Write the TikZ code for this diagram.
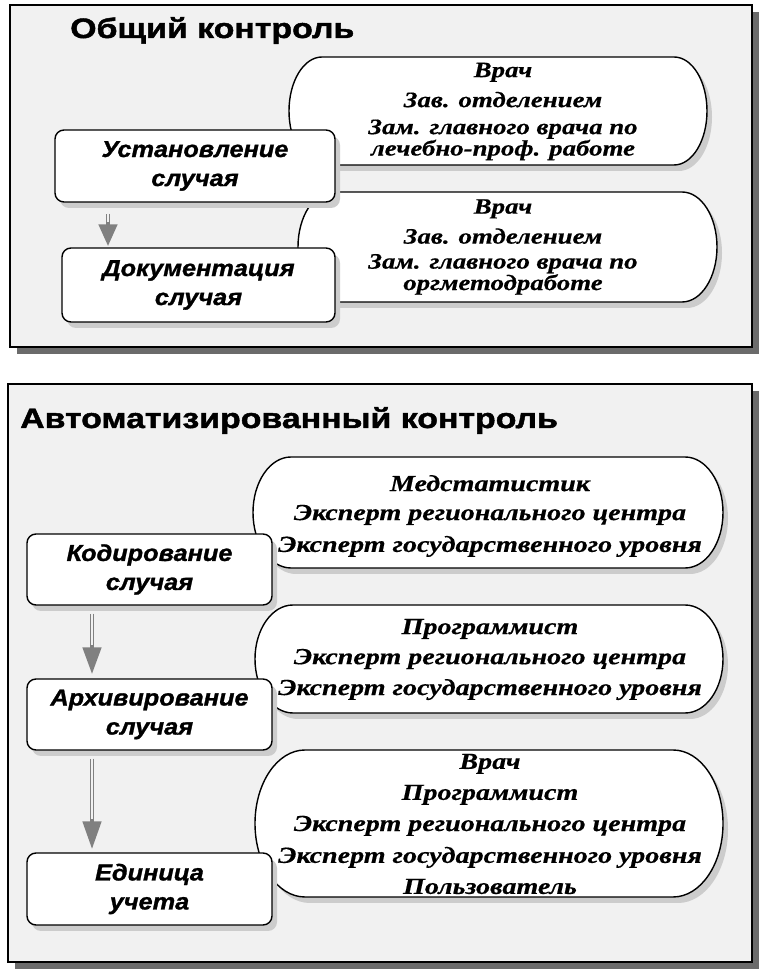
\documentclass[tikz,border=0pt]{standalone}
\usepackage{fontspec}
\setmainfont{Liberation Serif}
\newfontfamily\titlefam{Liberation Sans}[UprightFont={* Bold}, FakeStretch=1.21, FakeBold=1.6]
\newfontfamily\boxfam{Liberation Sans}[UprightFont={* Bold Italic}, FakeStretch=1.1, FakeBold=1.2]
\newfontfamily\pillfam{Liberation Serif}[UprightFont={* Bold Italic}, FakeStretch=1.22, FakeBold=0.5]
\usetikzlibrary{arrows.meta,shadows}
\definecolor{panelbg}{gray}{0.945}
\definecolor{panelshadow}{gray}{0.42}
\definecolor{softshadow}{gray}{0.80}
\definecolor{arrowgray}{gray}{0.50}
% pill outline: style, cx, cy, w, h, rx
\newcommand\pillshape[6]{%
  \path[#1] ({#2-#4/2+#6},{#3+#5/2}) -- ({#2+#4/2-#6},{#3+#5/2})
    arc[start angle=90, end angle=-90, x radius=#6, y radius=#5/2]
    -- ({#2-#4/2+#6},{#3-#5/2})
    arc[start angle=270, end angle=90, x radius=#6, y radius=#5/2] -- cycle;}
\begin{document}
\begin{tikzpicture}[x=1pt,y=1pt,
  panel/.style={draw=black, line width=1.4pt, fill=panelbg,
    drop shadow={shadow xshift=7pt, shadow yshift=-7pt, fill=panelshadow, opacity=1}},
  title/.style={anchor=base west, inner sep=0pt, font={\titlefam\fontsize{28}{32}\selectfont}},
  pill/.style={draw=black, line width=1.4pt, fill=white,
    drop shadow={shadow xshift=5pt, shadow yshift=-6pt, fill=softshadow, opacity=1}},
  pilltext/.style={align=center, inner sep=0pt, font={\pillfam\fontsize{#1}{19}\selectfont}},
  pilltext/.default=22,
  stepbox/.style={draw=black, line width=1.4pt, fill=white, rounded corners=9pt,
    align=center, inner sep=0pt,
    font={\boxfam\fontsize{23}{29}\selectfont},
    drop shadow={shadow xshift=5pt, shadow yshift=-6pt, fill=softshadow, opacity=1}},
  garrow/.style={draw=arrowgray, line width=4.6pt, -{Triangle[length=#1, width=18pt]}},
  ginner/.style={draw=panelbg, line width=1.6pt, shorten >=#1},
]
\useasboundingbox (0,0) rectangle (767,980);
\fill[white] (0,0) rectangle (767,980);

% ---------- panels ----------
\path[panel] (10,975) rectangle (752,633);
\path[panel] (8,596) rectangle (752,18);

\node[title] (t1) at (70,942) {Общий контроль};
\node[title] (t2) at (20,552) {Автоматизированный контроль};

% ---------- pills (outlines) ----------
\pillshape{pill}{498}{869}{418}{108}{33}
\pillshape{pill}{507.5}{733}{419}{110}{35}
\pillshape{pill}{488}{467.5}{470}{111}{38}
\pillshape{pill}{489}{321}{468}{108}{38}
\pillshape{pill}{489}{156.5}{468}{147}{50}

% ---------- step boxes ----------
\node[stepbox, minimum width=280pt, minimum height=72pt] (ust) at (195,814) {Установление\\случая};
\node[stepbox, minimum width=273pt, minimum height=74pt] (doc) at (198.5,695) {Документация\\случая};
\node[stepbox, minimum width=245pt, minimum height=71pt] (kod) at (149.5,410.5) {Кодирование\\случая};
\node[stepbox, minimum width=245pt, minimum height=71pt] (arh) at (149.5,265.5) {Архивирование\\случая};
\node[stepbox, minimum width=245pt, minimum height=72pt] (ed) at (149.5,91) {Единица\\учета};

% ---------- arrows ----------
\coordinate (ax1) at (108,0);
\coordinate (ax2) at (92,0);
\draw[garrow=22pt, shorten <=11pt, shorten >=1pt] (ust.south -| ax1) -- (doc.north -| ax1);
\draw[ginner=25pt, shorten <=11pt] (ust.south -| ax1) -- (doc.north -| ax1);
\draw[garrow=27pt, shorten <=8pt, shorten >=4pt] (kod.south -| ax2) -- (arh.north -| ax2);
\draw[ginner=33pt, shorten <=8pt] (kod.south -| ax2) -- (arh.north -| ax2);
\draw[garrow=28pt, shorten <=8pt, shorten >=3pt] (arh.south -| ax2) -- (ed.north -| ax2);
\draw[ginner=33pt, shorten <=8pt] (arh.south -| ax2) -- (ed.north -| ax2);

% ---------- pill texts ----------
\node[pilltext=22] (p1) at (503,868.5) {Врач\\[9pt]Зав. отделением\\[8pt]Зам. главного врача по\\лечебно-проф. работе};
\node[pilltext=22] (p2) at (503,733) {Врач\\[9pt]Зав. отделением\\[6pt]Зам. главного врача по\\оргметодработе};
\node[pilltext=23] (pa) at (490,464) {Медстатистик\\[10pt]Эксперт регионального центра\\[10pt]Эксперт государственного уровня};
\node[pilltext=23] (pb) at (490,320.5) {Программист\\[9pt]Эксперт регионального центра\\[9pt]Эксперт государственного уровня};
\node[pilltext=23] (pc) at (490,156) {Врач\\[10pt]Программист\\[10pt]Эксперт регионального центра\\[10pt]Эксперт государственного уровня\\[10pt]Пользователь};
\end{tikzpicture}
\end{document}
